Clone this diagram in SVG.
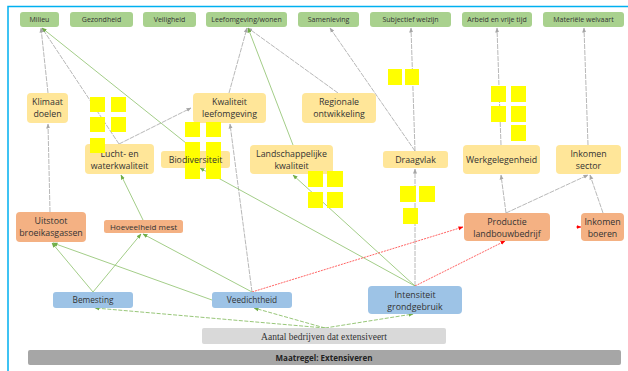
<svg xmlns="http://www.w3.org/2000/svg" width="628" height="371" viewBox="0 0 628 371">
<style>
text{font-family:"Open Sans","Liberation Sans",sans-serif;fill:#333;text-anchor:middle}
.g rect{fill:#a9d18e}
.y rect{fill:#ffe699}
.o rect{fill:#f4b183}
.b rect{fill:#9dc3e6}
.gt{font-size:7px}
.yt{font-size:8.8px}
.ot{font-size:8.8px}
.st,.y rect.st{fill:#ffff00}
.cg{stroke:#a6a6a6;stroke-width:0.8;fill:none;stroke-dasharray:5 1;marker-end:url(#ag)}
.cn{stroke:#8cc06a;stroke-width:0.8;fill:none;marker-end:url(#an)}
.cnd{stroke:#8cc06a;stroke-width:0.9;fill:none;stroke-dasharray:4 1.5;marker-end:url(#an)}
.cr{stroke:#ff3b3b;stroke-width:0.8;fill:none;stroke-dasharray:2 1;marker-end:url(#ar)}
</style>
<defs>
<marker id="ag" viewBox="0 0 10 10" refX="9" refY="5" markerWidth="5" markerHeight="5" orient="auto" markerUnits="userSpaceOnUse"><path d="M0,1L10,5L0,9z" fill="#a6a6a6"/></marker>
<marker id="an" viewBox="0 0 10 10" refX="9" refY="5" markerWidth="5" markerHeight="5" orient="auto" markerUnits="userSpaceOnUse"><path d="M0,1L10,5L0,9z" fill="#70ad47"/></marker>
<marker id="ar" viewBox="0 0 10 10" refX="9" refY="5" markerWidth="5" markerHeight="5" orient="auto" markerUnits="userSpaceOnUse"><path d="M0,1L10,5L0,9z" fill="#ff0000"/></marker>
</defs>
<rect width="628" height="371" fill="#fff"/>
<path d="M8,371V6.5H628" stroke="#00b0f0" stroke-width="1.5" fill="none"/>

<g id="connectors">
<line class="cg" x1="48" y1="93" x2="41" y2="28"/>
<line class="cg" x1="50" y1="212" x2="48" y2="124"/>
<line class="cg" x1="119" y1="144" x2="42" y2="28"/>
<line class="cg" x1="119" y1="144" x2="191" y2="108"/>
<line class="cg" x1="229" y1="93" x2="247" y2="28"/>
<line class="cg" x1="338" y1="93" x2="248" y2="28"/>
<line class="cg" x1="415" y1="151" x2="330" y2="28"/>
<line class="cg" x1="415" y1="151" x2="411" y2="28"/>
<line class="cg" x1="415" y1="286" x2="415" y2="169"/>
<line class="cg" x1="501" y1="145" x2="497" y2="28"/>
<line class="cg" x1="588" y1="145" x2="584" y2="28"/>
<line class="cg" x1="506" y1="213" x2="501" y2="175"/>
<line class="cg" x1="506" y1="213" x2="588" y2="175"/>
<line class="cg" x1="603" y1="213" x2="590" y2="175"/>
<line class="cg" x1="252" y1="292" x2="230" y2="124"/>
<line class="cn" x1="196" y1="151" x2="42" y2="28"/>
<line class="cn" x1="415" y1="286" x2="200" y2="168"/>
<line class="cn" x1="293" y1="145" x2="248" y2="28"/>
<line class="cn" x1="415" y1="286" x2="293" y2="175"/>
<line class="cn" x1="143" y1="220" x2="121" y2="175"/>
<line class="cn" x1="93" y1="292" x2="52" y2="243"/>
<line class="cn" x1="93" y1="292" x2="141" y2="234"/>
<line class="cn" x1="252" y1="292" x2="143" y2="234"/>
<line class="cn" x1="212" y1="300" x2="53" y2="243"/>
<line class="cnd" x1="325" y1="328" x2="95" y2="308"/>
<line class="cnd" x1="325" y1="328" x2="254" y2="308"/>
<line class="cnd" x1="325" y1="328" x2="413" y2="314"/>
<line class="cr" x1="415" y1="286" x2="505" y2="241"/>
<line class="cr" x1="252" y1="292" x2="463" y2="227"/>
<line class="cr" x1="576" y1="227" x2="581" y2="227"/>
</g>

<g id="milieu" class="g"><rect x="20" y="12" width="39" height="15" rx="3"/><text class="gt" x="39.5" y="22">Milieu</text></g>
<g id="gezondheid" class="g"><rect x="70" y="12" width="63" height="15" rx="3"/><text class="gt" x="101.5" y="22">Gezondheid</text></g>
<g id="veiligheid" class="g"><rect x="143" y="12" width="53" height="15" rx="3"/><text class="gt" x="169.5" y="22">Veiligheid</text></g>
<g id="leefomgeving" class="g"><rect x="206" y="12" width="81" height="15" rx="3"/><text class="gt" x="246.5" y="22">Leefomgeving/wonen</text></g>
<g id="samenleving" class="g"><rect x="298" y="12" width="61" height="15" rx="3"/><text class="gt" x="328.5" y="22">Samenleving</text></g>
<g id="welzijn" class="g"><rect x="370" y="12" width="81" height="15" rx="3"/><text class="gt" x="410.5" y="22">Subjectief welzijn</text></g>
<g id="arbeid" class="g"><rect x="462" y="12" width="70" height="15" rx="3"/><text class="gt" x="497" y="22">Arbeid en vrije tijd</text></g>
<g id="welvaart" class="g"><rect x="543" y="12" width="81" height="15" rx="3"/><text class="gt" x="583.5" y="22">Materiële welvaart</text></g>

<g id="klimaat" class="y"><rect x="27" y="93" width="41" height="30" rx="4"/><text class="yt" x="47.5" y="105">Klimaat</text><text class="yt" x="47.5" y="117">doelen</text></g>
<g id="kwaliteit" class="y"><rect x="193" y="93" width="73" height="30" rx="4"/><text class="yt" x="229.5" y="105">Kwaliteit</text><text class="yt" x="229.5" y="117">leefomgeving</text></g>
<g id="regionale" class="y"><rect x="302" y="93" width="74" height="30" rx="4"/><text class="yt" x="339" y="105">Regionale</text><text class="yt" x="339" y="117">ontwikkeling</text></g>
<g id="lucht" class="y"><rect x="85" y="144" width="69" height="30" rx="4"/><text class="yt" x="119.5" y="157">Lucht- en</text><text class="yt" x="119.5" y="169">waterkwaliteit</text></g>
<g id="biodiversiteit" class="y"><rect x="161" y="151" width="69" height="17" rx="3"/>
<rect class="st" x="185" y="122" width="15" height="15"/><rect class="st" x="206" y="122" width="15" height="15"/>
<rect class="st" x="185" y="142" width="15" height="37"/><rect class="st" x="206" y="142" width="15" height="37"/>
<text class="yt" x="195.5" y="162.5">Biodiversiteit</text></g>
<g id="landschap" class="y"><rect x="250" y="145" width="83" height="29" rx="4"/><text class="yt" x="291.5" y="157">Landschappelijke</text><text class="yt" x="291.5" y="169">kwaliteit</text></g>
<g id="draagvlak" class="y"><rect x="383" y="151" width="65" height="17" rx="3"/><text class="yt" x="415.5" y="162.5">Draagvlak</text></g>
<g id="werkgelegenheid" class="y"><rect x="463" y="145" width="77" height="29" rx="4"/><text class="yt" x="501.5" y="163">Werkgelegenheid</text></g>
<g id="inkomensector" class="y"><rect x="556" y="145" width="65" height="29" rx="4"/><text class="yt" x="588.5" y="157">Inkomen</text><text class="yt" x="588.5" y="169">sector</text></g>

<g id="uitstoot" class="o"><rect x="16" y="212" width="70" height="30" rx="4"/><text class="ot" x="51" y="224">Uitstoot</text><text class="ot" x="51" y="236">broeikasgassen</text></g>
<g id="mest" class="o"><rect x="104" y="220" width="79" height="13" rx="2.5"/><text class="ot" style="font-size:8px" x="143.5" y="229.7">Hoeveelheid mest</text></g>
<g id="productie" class="o"><rect x="464" y="213" width="86" height="28" rx="4"/><text class="ot" x="507" y="225">Productie</text><text class="ot" x="507" y="237">landbouwbedrijf</text></g>
<g id="inkomenboeren" class="o"><rect x="581" y="213" width="43" height="28" rx="4"/><text class="ot" x="602.5" y="225">Inkomen</text><text class="ot" x="602.5" y="237">boeren</text></g>

<g id="bemesting" class="b"><rect x="53" y="292" width="80" height="16" rx="3"/><text class="ot" style="font-size:8.3px" x="93" y="303">Bemesting</text></g>
<g id="veedichtheid" class="b"><rect x="212" y="292" width="80" height="16" rx="3"/><text class="ot" style="font-size:8.3px" x="252" y="303">Veedichtheid</text></g>
<g id="intensiteit" class="b"><rect x="368" y="286" width="94" height="28" rx="4"/><text class="ot" x="415" y="298">Intensiteit</text><text class="ot" x="415" y="310">grondgebruik</text></g>

<g id="aantal"><rect x="202" y="328" width="244" height="16" rx="2" fill="#d9d9d9"/><text x="324" y="340" style="font-family:'Liberation Serif',serif;font-size:9.5px">Aantal bedrijven dat extensiveert</text></g>
<g id="maatregel"><rect x="28" y="350" width="593" height="15" rx="2" fill="#a6a6a6"/><text x="324" y="360.8" style="font-size:8px;font-weight:bold;fill:#222">Maatregel: Extensiveren</text></g>

<g id="stickies">
<rect class="st" x="90" y="97" width="15" height="15"/><rect class="st" x="111" y="97" width="15" height="15"/>
<rect class="st" x="90" y="117" width="15" height="15"/><rect class="st" x="111" y="117" width="15" height="15"/>
<rect class="st" x="90" y="138" width="15" height="15"/>
<rect class="st" x="308" y="171" width="15" height="16"/><rect class="st" x="327" y="171" width="16" height="16"/>
<rect class="st" x="308" y="192" width="15" height="16"/><rect class="st" x="327" y="192" width="16" height="16"/>
<rect class="st" x="388" y="69" width="14" height="16"/><rect class="st" x="405" y="69" width="14" height="16"/>
<rect class="st" x="400" y="186" width="16" height="16"/><rect class="st" x="419" y="186" width="16" height="16"/>
<rect class="st" x="403" y="208" width="15" height="16"/>
<rect class="st" x="491" y="86" width="15" height="16"/><rect class="st" x="511" y="86" width="15" height="16"/>
<rect class="st" x="491" y="106" width="15" height="16"/><rect class="st" x="511" y="106" width="15" height="16"/>
<rect class="st" x="511" y="125" width="15" height="16"/>
</g>
</svg>
